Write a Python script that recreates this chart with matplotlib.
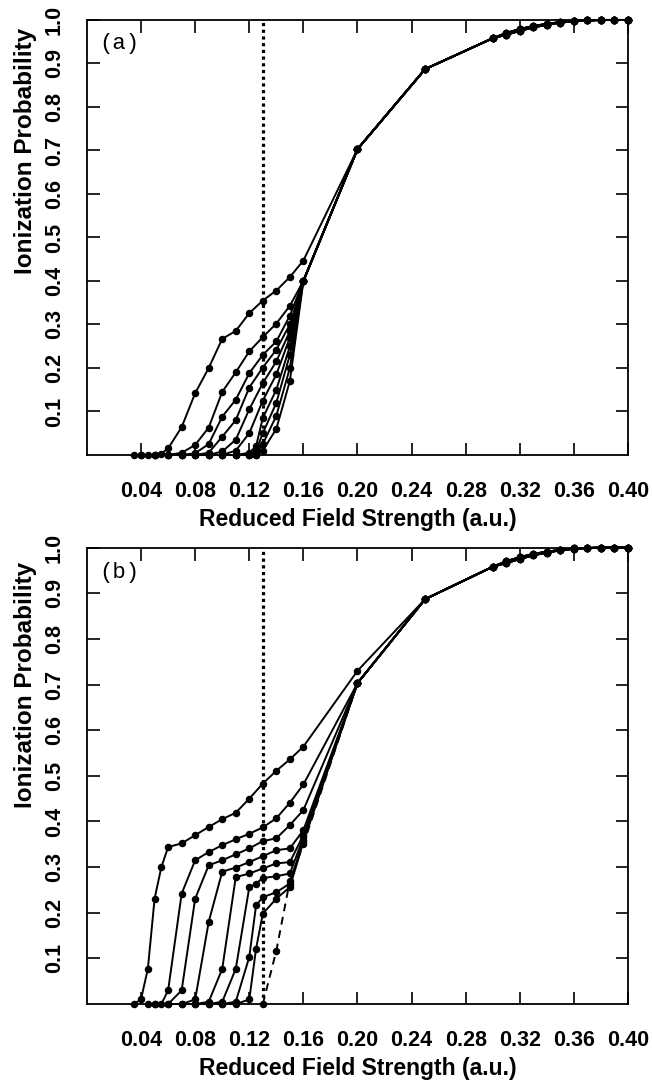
import matplotlib
matplotlib.use('Agg')
import matplotlib.pyplot as plt

# ---- data ----
tail_x = [0.20, 0.25, 0.30, 0.31, 0.32, 0.33, 0.34, 0.35, 0.36, 0.37, 0.38, 0.39, 0.40]
tail_y = [0.703, 0.887, 0.958, 0.970, 0.979, 0.986, 0.991, 0.995, 0.998, 0.999, 1.0, 1.0, 1.0]
tail_y2 = [0.703, 0.887, 0.958, 0.966, 0.975, 0.983, 0.989, 0.994, 0.997, 0.999, 1.0, 1.0, 1.0]
tail_b0_y = [0.730, 0.887, 0.958, 0.970, 0.979, 0.986, 0.991, 0.995, 0.998, 0.999, 1.0, 1.0, 1.0]

# panel (a)
a_x = [
    [0.035, 0.04, 0.045, 0.05, 0.055, 0.06, 0.07, 0.08, 0.09, 0.10, 0.11, 0.12, 0.13, 0.14, 0.15, 0.16],
    [0.04, 0.05, 0.06, 0.07, 0.08, 0.09, 0.10, 0.11, 0.12, 0.13, 0.14, 0.15, 0.16],
    [0.05, 0.06, 0.07, 0.08, 0.09, 0.10, 0.11, 0.12, 0.13, 0.14, 0.15, 0.16],
    [0.06, 0.07, 0.08, 0.09, 0.10, 0.11, 0.12, 0.13, 0.14, 0.15, 0.16],
    [0.07, 0.08, 0.09, 0.10, 0.11, 0.12, 0.13, 0.14, 0.15, 0.16],
    [0.08, 0.09, 0.10, 0.11, 0.12, 0.13, 0.14, 0.15, 0.16],
    [0.09, 0.10, 0.11, 0.12, 0.125, 0.13, 0.14, 0.15, 0.16],
    [0.10, 0.11, 0.12, 0.125, 0.13, 0.14, 0.15, 0.16],
    [0.11, 0.12, 0.125, 0.13, 0.14, 0.15, 0.16],
    [0.12, 0.125, 0.13, 0.14, 0.15, 0.16],
]
a_y = [
    [0, 0, 0, 0, 0.003, 0.015, 0.064, 0.142, 0.200, 0.267, 0.285, 0.326, 0.355, 0.378, 0.409, 0.447],
    [0, 0, 0, 0.005, 0.023, 0.063, 0.145, 0.190, 0.238, 0.271, 0.302, 0.343, 0.400],
    [0, 0, 0, 0.004, 0.025, 0.088, 0.127, 0.188, 0.230, 0.261, 0.320, 0.400],
    [0, 0, 0, 0.005, 0.042, 0.080, 0.155, 0.201, 0.242, 0.300, 0.400],
    [0, 0, 0, 0.008, 0.035, 0.105, 0.165, 0.215, 0.285, 0.400],
    [0, 0, 0, 0.010, 0.050, 0.125, 0.185, 0.270, 0.400],
    [0, 0, 0, 0.005, 0.020, 0.085, 0.150, 0.250, 0.400],
    [0, 0, 0, 0.010, 0.050, 0.120, 0.230, 0.400],
    [0, 0, 0, 0.025, 0.090, 0.200, 0.400],
    [0, 0, 0.010, 0.060, 0.170, 0.400],
]

# panel (b)
b_x = [
    [0.035, 0.04, 0.045, 0.05, 0.055, 0.06, 0.07, 0.08, 0.09, 0.10, 0.11, 0.12, 0.13, 0.14, 0.15, 0.16],
    [0.045, 0.05, 0.055, 0.06, 0.07, 0.08, 0.09, 0.10, 0.11, 0.12, 0.13, 0.14, 0.15, 0.16],
    [0.05, 0.06, 0.07, 0.08, 0.09, 0.10, 0.11, 0.12, 0.13, 0.14, 0.15, 0.16],
    [0.06, 0.07, 0.08, 0.09, 0.10, 0.11, 0.12, 0.13, 0.14, 0.15, 0.16],
    [0.07, 0.08, 0.09, 0.10, 0.11, 0.12, 0.13, 0.14, 0.15, 0.16],
    [0.08, 0.09, 0.10, 0.11, 0.12, 0.125, 0.13, 0.14, 0.15, 0.16],
    [0.09, 0.10, 0.11, 0.12, 0.125, 0.13, 0.14, 0.15, 0.16],
    [0.10, 0.11, 0.12, 0.125, 0.13, 0.14, 0.15, 0.16],
]
b_y = [
    [0, 0.011, 0.077, 0.231, 0.300, 0.344, 0.352, 0.370, 0.388, 0.405, 0.419, 0.450, 0.483, 0.511, 0.536, 0.564],
    [0, 0, 0, 0.030, 0.242, 0.315, 0.333, 0.348, 0.361, 0.373, 0.387, 0.407, 0.441, 0.481],
    [0, 0, 0.030, 0.231, 0.304, 0.315, 0.328, 0.341, 0.357, 0.363, 0.392, 0.425],
    [0, 0, 0.010, 0.180, 0.290, 0.299, 0.311, 0.324, 0.337, 0.341, 0.381],
    [0, 0, 0.005, 0.077, 0.278, 0.286, 0.297, 0.308, 0.311, 0.370],
    [0, 0, 0.005, 0.077, 0.256, 0.264, 0.276, 0.280, 0.286, 0.365],
    [0, 0, 0.005, 0.103, 0.216, 0.234, 0.245, 0.264, 0.360],
    [0, 0, 0.010, 0.121, 0.198, 0.231, 0.256, 0.355],
]
b_dash_x = [0.13, 0.14, 0.15, 0.16]
b_dash_y = [0.0, 0.117, 0.270, 0.350]

threshold = 0.13
xticks = [0.04, 0.08, 0.12, 0.16, 0.20, 0.24, 0.28, 0.32, 0.36, 0.40]
yticks = [0.1, 0.2, 0.3, 0.4, 0.5, 0.6, 0.7, 0.8, 0.9, 1.0]

plt.rcParams.update({'font.family': ['Liberation Sans', 'DejaVu Sans']})

fig = plt.figure(figsize=(6.52, 10.91), dpi=100)
ax_a = fig.add_axes([0.1334, 0.5830, 0.8298, 0.3987])
ax_b = fig.add_axes([0.1334, 0.0797, 0.8298, 0.4184])

line_kw = dict(color='black', lw=1.4, marker='o', ms=4.4, clip_on=False, zorder=3)


def style(ax, tag):
    ax.axvline(threshold, color='black', lw=2.3, linestyle=(0, (1, 1.1)), zorder=2)
    ax.set_xlim(0, 0.40)
    ax.set_ylim(0, 1.0)
    ax.set_xticks(xticks)
    ax.set_xticklabels([f'{v:.2f}' for v in xticks], fontsize=15.5, fontweight='bold')
    ax.set_yticks(yticks)
    ax.set_yticklabels([f'{v:.1f}' for v in yticks], fontsize=15.5, fontweight='bold',
                       rotation=90, va='center')
    ax.tick_params(direction='in', length=9, width=1.2, top=True, right=True, pad=16)
    ax.tick_params(axis='x', pad=19)
    for s in ax.spines.values():
        s.set_linewidth(1.3)
    ax.set_xlabel('Reduced Field Strength (a.u.)', fontsize=16.5, fontweight='bold', labelpad=4)
    ax.set_ylabel('Ionization Probability', fontsize=17.5, fontweight='bold')
    ax.yaxis.set_label_coords(-0.093, 0.70)
    ax.text(0.009, 0.945, tag, family='Liberation Mono', fontsize=16, va='center', ha='left')


for xs, ys in zip(a_x, a_y):
    ty = tail_y2 if len(xs) % 2 else tail_y
    ax_a.plot(xs + tail_x, ys + ty, **line_kw)
style(ax_a, '(a)')

for i, (xs, ys) in enumerate(zip(b_x, b_y)):
    ty = tail_b0_y if i == 0 else (tail_y2 if i % 2 else tail_y)
    ax_b.plot(xs + tail_x, ys + ty, **line_kw)
ax_b.plot(b_dash_x + tail_x, b_dash_y + tail_y, color='black', lw=1.4, ls=(0, (4, 3)),
          marker='o', ms=4.4, clip_on=False, zorder=3)
style(ax_b, '(b)')

fig.savefig('out.png', dpi=100)
